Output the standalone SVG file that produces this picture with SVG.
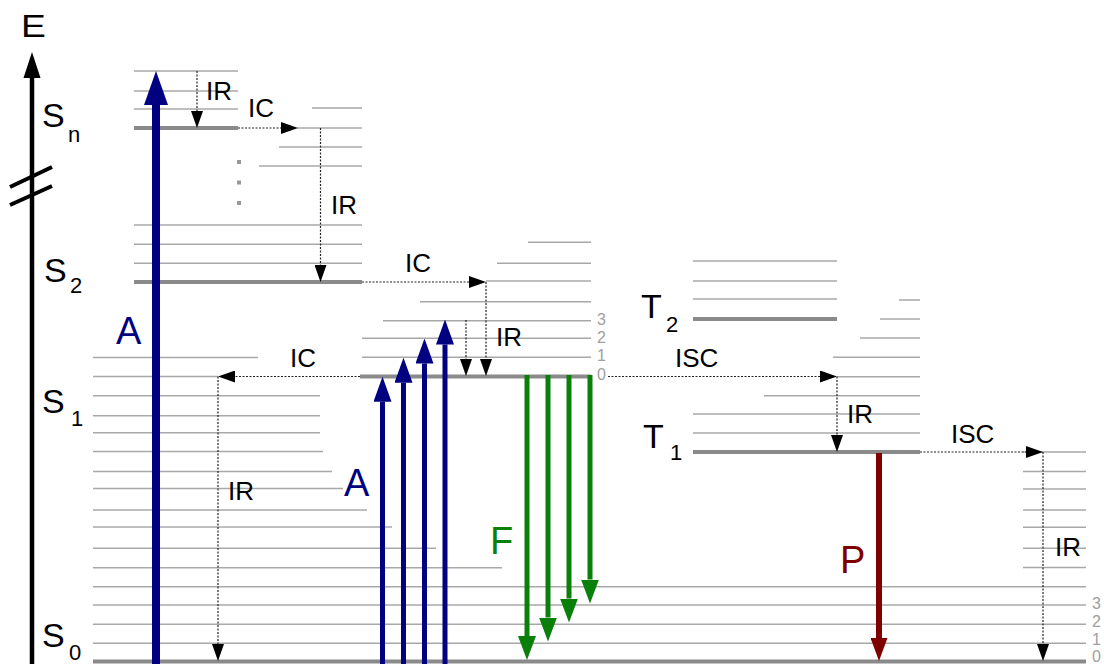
<svg xmlns="http://www.w3.org/2000/svg" width="1104" height="664" viewBox="0 0 1104 664">
<style>
.lv{stroke:#a8a8a8;stroke-width:1.5;fill:none}
.th{stroke:#8a8a8a;stroke-width:4;fill:none}
.dt{stroke:#222;stroke-width:1.2;stroke-dasharray:2 1.5;fill:none}
.lb{font-family:"Liberation Sans",Arial,sans-serif;font-size:26px;fill:#000}
.st{font-family:"Liberation Sans",Arial,sans-serif;font-size:34px;fill:#000}
.sb{font-family:"Liberation Sans",Arial,sans-serif;font-size:22px;fill:#000}
.vn{font-family:"Liberation Sans",Arial,sans-serif;font-size:16px;fill:#a0a0a0}
.big{font-family:"Liberation Sans",Arial,sans-serif;font-size:38px}
</style>
<defs>
<marker id="mk" viewBox="0 0 17 12" markerWidth="17" markerHeight="12" refX="0" refY="6" orient="auto" markerUnits="userSpaceOnUse"><path d="M0,0 L17,6 L0,12 Z" fill="#000"/></marker>
<marker id="mbB" viewBox="0 0 34 24" markerWidth="34" markerHeight="24" refX="0" refY="12" orient="auto" markerUnits="userSpaceOnUse"><path d="M0,0 L34,12 L0,24 Z" fill="#000080"/></marker>
<marker id="mbS" viewBox="0 0 25 18" markerWidth="25" markerHeight="18" refX="0" refY="9" orient="auto" markerUnits="userSpaceOnUse"><path d="M0,0 L25,9 L0,18 Z" fill="#000080"/></marker>
<marker id="mg" viewBox="0 0 24 18" markerWidth="24" markerHeight="18" refX="0" refY="9" orient="auto" markerUnits="userSpaceOnUse"><path d="M0,0 L24,9 L0,18 Z" fill="#0a800a"/></marker>
<marker id="mr" viewBox="0 0 23 17" markerWidth="23" markerHeight="17" refX="0" refY="8.5" orient="auto" markerUnits="userSpaceOnUse"><path d="M0,0 L23,8.5 L0,17 Z" fill="#7f0000"/></marker>
</defs>
<rect width="1104" height="664" fill="#fff"/>

<g id="axis">
<line x1="32" y1="664" x2="32" y2="76" stroke="#000" stroke-width="4.5"/>
<path d="M32,52 L40.5,78 L23.5,78 Z" fill="#000"/>
<line x1="10" y1="187" x2="52" y2="167" stroke="#000" stroke-width="4"/>
<line x1="10" y1="205" x2="52" y2="186" stroke="#000" stroke-width="4"/>
<text x="21" y="37" style="font-family:'Liberation Sans',Arial,sans-serif;font-size:31px" transform="translate(21 37) scale(1.2 1) translate(-21 -37)">E</text>
</g>

<g id="S0">
<line class="lv" x1="93" y1="357.5" x2="258" y2="357.5"/>
<line class="lv" x1="93" y1="376.5" x2="218" y2="376.5"/>
<line class="lv" x1="93" y1="395.7" x2="320" y2="395.7"/>
<line class="lv" x1="93" y1="415.7" x2="320" y2="415.7"/>
<line class="lv" x1="93" y1="432.7" x2="320" y2="432.7"/>
<line class="lv" x1="93" y1="451.5" x2="323" y2="451.5"/>
<line class="lv" x1="93" y1="471.5" x2="332" y2="471.5"/>
<line class="lv" x1="93" y1="488.5" x2="343" y2="488.5"/>
<line class="lv" x1="93" y1="510" x2="367" y2="510"/>
<line class="lv" x1="93" y1="527" x2="392" y2="527"/>
<line class="lv" x1="93" y1="548.3" x2="436" y2="548.3"/>
<line class="lv" x1="93" y1="567.7" x2="502" y2="567.7"/>
<line class="lv" x1="93" y1="586.7" x2="1086" y2="586.7"/>
<line class="lv" x1="93" y1="605" x2="1086" y2="605"/>
<line class="lv" x1="93" y1="624.3" x2="1086" y2="624.3"/>
<line class="lv" x1="93" y1="643.3" x2="1086" y2="643.3"/>
<line class="th" x1="93" y1="661.5" x2="1086" y2="661.5"/>
<line class="lv" x1="1023" y1="452" x2="1086" y2="452"/>
<line class="lv" x1="1023" y1="471.5" x2="1086" y2="471.5"/>
<line class="lv" x1="1023" y1="489" x2="1086" y2="489"/>
<line class="lv" x1="1023" y1="510" x2="1086" y2="510"/>
<line class="lv" x1="1023" y1="527.3" x2="1086" y2="527.3"/>
<line class="lv" x1="1023" y1="548.3" x2="1086" y2="548.3"/>
<line class="lv" x1="1023" y1="567.5" x2="1086" y2="567.5"/>
<text class="vn" x="1092" y="609">3</text>
<text class="vn" x="1092" y="627">2</text>
<text class="vn" x="1092" y="645">1</text>
<text class="vn" x="1092" y="662">0</text>
<text class="st" x="42" y="647">S</text><text class="sb" x="69" y="660">0</text>
</g>

<g id="S1">
<line class="lv" x1="528" y1="242.3" x2="591" y2="242.3"/>
<line class="lv" x1="497" y1="263.3" x2="591" y2="263.3"/>
<line class="lv" x1="486" y1="281" x2="591" y2="281"/>
<line class="lv" x1="420" y1="301.7" x2="591" y2="301.7"/>
<line class="lv" x1="383" y1="320.7" x2="591" y2="320.7"/>
<line class="lv" x1="362" y1="338.3" x2="591" y2="338.3"/>
<line class="lv" x1="362" y1="357.3" x2="591" y2="357.3"/>
<line class="th" x1="360" y1="376.5" x2="591" y2="376.5"/>
<text class="vn" x="597" y="325">3</text>
<text class="vn" x="597" y="343">2</text>
<text class="vn" x="597" y="361">1</text>
<text class="vn" x="597" y="380">0</text>
<text class="st" x="42" y="413">S</text><text class="sb" x="71" y="426">1</text>
</g>

<g id="S2">
<line class="lv" x1="134" y1="225" x2="362" y2="225"/>
<line class="lv" x1="134" y1="244.3" x2="362" y2="244.3"/>
<line class="lv" x1="134" y1="263.3" x2="362" y2="263.3"/>
<line class="th" x1="134" y1="282" x2="362" y2="282"/>
<line class="lv" x1="312" y1="108" x2="362" y2="108"/>
<line class="lv" x1="297" y1="128" x2="362" y2="128"/>
<line class="lv" x1="279" y1="147" x2="362" y2="147"/>
<line class="lv" x1="259" y1="166" x2="362" y2="166"/>
<text class="st" x="44" y="282">S</text><text class="sb" x="70" y="293">2</text>
</g>

<g id="Sn">
<line class="lv" x1="134" y1="71" x2="238" y2="71"/>
<line class="lv" x1="134" y1="91" x2="238" y2="91"/>
<line class="lv" x1="134" y1="109" x2="238" y2="109"/>
<line class="th" x1="134" y1="128" x2="238" y2="128"/>
<rect x="237" y="160" width="4" height="4" fill="#999"/>
<rect x="237" y="180.5" width="4" height="4" fill="#999"/>
<rect x="237" y="201" width="4" height="4" fill="#999"/>
<text class="st" x="42" y="127">S</text><text class="sb" x="68" y="142">n</text>
</g>

<g id="T2">
<line class="lv" x1="693" y1="261" x2="837" y2="261"/>
<line class="lv" x1="693" y1="281" x2="837" y2="281"/>
<line class="lv" x1="693" y1="299" x2="837" y2="299"/>
<line class="th" x1="693" y1="319" x2="837" y2="319"/>
<text class="st" x="641" y="318">T</text><text class="sb" x="666" y="332">2</text>
</g>

<g id="T1">
<line class="lv" x1="899" y1="300" x2="920" y2="300"/>
<line class="lv" x1="880" y1="319" x2="920" y2="319"/>
<line class="lv" x1="860" y1="338" x2="920" y2="338"/>
<line class="lv" x1="833" y1="357.3" x2="920" y2="357.3"/>
<line class="lv" x1="837" y1="376.7" x2="920" y2="376.7"/>
<line class="lv" x1="764" y1="395.7" x2="920" y2="395.7"/>
<line class="lv" x1="693" y1="414" x2="920" y2="414"/>
<line class="lv" x1="693" y1="433" x2="920" y2="433"/>
<line class="th" x1="693" y1="452" x2="920" y2="452"/>
<text class="st" x="643" y="448">T</text><text class="sb" x="670" y="460">1</text>
</g>

<g id="connectors">
<line class="dt" x1="197" y1="71" x2="197" y2="111" marker-end="url(#mk)"/>
<line class="dt" x1="238" y1="128" x2="281" y2="128" marker-end="url(#mk)"/>
<line class="dt" x1="320.5" y1="128" x2="320.5" y2="265" marker-end="url(#mk)"/>
<line class="dt" x1="362" y1="282" x2="469" y2="282" marker-end="url(#mk)"/>
<line class="dt" x1="486" y1="282" x2="486" y2="359" marker-end="url(#mk)"/>
<line class="dt" x1="466" y1="320" x2="466" y2="359" marker-end="url(#mk)"/>
<line class="dt" x1="360" y1="376.5" x2="235" y2="376.5" marker-end="url(#mk)"/>
<line class="dt" x1="218" y1="376.5" x2="218" y2="644" marker-end="url(#mk)"/>
<line class="dt" x1="608" y1="376.5" x2="820" y2="376.5" marker-end="url(#mk)"/>
<line class="dt" x1="837" y1="376.5" x2="837" y2="435" marker-end="url(#mk)"/>
<line class="dt" x1="920" y1="452" x2="1026" y2="452" marker-end="url(#mk)"/>
<line class="dt" x1="1043" y1="452" x2="1043" y2="644" marker-end="url(#mk)"/>

<line x1="156" y1="664" x2="156" y2="105" stroke="#000080" stroke-width="8" marker-end="url(#mbB)"/>
<line x1="382.5" y1="664" x2="382.5" y2="401.7" stroke="#000080" stroke-width="5" marker-end="url(#mbS)"/>
<line x1="403.5" y1="664" x2="403.5" y2="382.7" stroke="#000080" stroke-width="5" marker-end="url(#mbS)"/>
<line x1="424.5" y1="664" x2="424.5" y2="363.5" stroke="#000080" stroke-width="5" marker-end="url(#mbS)"/>
<line x1="445" y1="664" x2="445" y2="344.5" stroke="#000080" stroke-width="5" marker-end="url(#mbS)"/>
<line x1="527" y1="375" x2="527" y2="636" stroke="#0a800a" stroke-width="5" marker-end="url(#mg)"/>
<line x1="548" y1="375" x2="548" y2="617.5" stroke="#0a800a" stroke-width="5" marker-end="url(#mg)"/>
<line x1="569" y1="375" x2="569" y2="598.5" stroke="#0a800a" stroke-width="5" marker-end="url(#mg)"/>
<line x1="590" y1="375" x2="590" y2="579.5" stroke="#0a800a" stroke-width="5" marker-end="url(#mg)"/>
<line x1="879" y1="453" x2="879" y2="638" stroke="#7f0000" stroke-width="6" marker-end="url(#mr)"/>

<text class="lb" x="206" y="100">IR</text>
<text class="lb" x="248" y="117">IC</text>
<text class="lb" x="331" y="214">IR</text>
<text class="lb" x="405" y="272">IC</text>
<text class="lb" x="496" y="346">IR</text>
<text class="lb" x="290" y="367">IC</text>
<text class="lb" x="228" y="500">IR</text>
<text class="lb" x="675" y="367">ISC</text>
<text class="lb" x="847" y="423">IR</text>
<text class="lb" x="951" y="443">ISC</text>
<text class="lb" x="1055" y="556">IR</text>
<text class="big" x="116" y="344" fill="#000080">A</text>
<text class="big" x="344" y="496" fill="#000080">A</text>
<text class="big" x="490" y="554" fill="#0a800a">F</text>
<text class="big" x="840" y="573" fill="#7f0000">P</text>
</g>
</svg>
